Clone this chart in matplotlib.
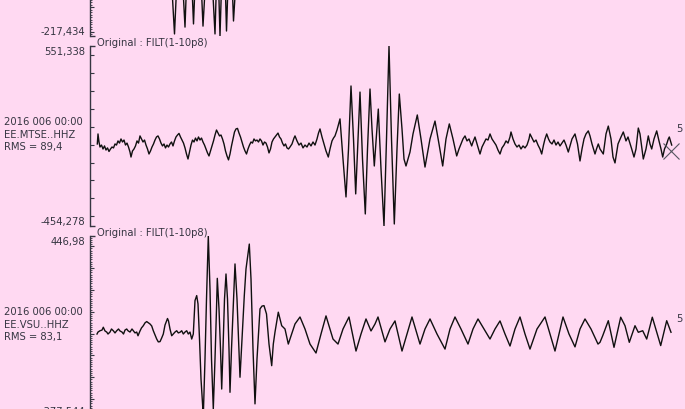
import matplotlib
matplotlib.use("Agg")
import matplotlib.pyplot as plt
from matplotlib.ticker import MultipleLocator, NullFormatter
from matplotlib.transforms import blended_transform_factory

plt.rcParams['font.family'] = ['DejaVu Sans']

# ---------------- data ----------------
FILTER_LABEL = "Original : FILT(1-10p8)"
START_TIME = "2016 006 00:00"
STATIONS = [None, "EE.MTSE..HHZ", "EE.VSU..HHZ"]
RMS = [None, "RMS = 89,4", "RMS = 83,1"]
COMPONENT_MARK = [None, "5", "5"]
Y_MIN = [-217.434, -454.278, -377.544]
Y_MAX = [520.0, 551.338, 446.98]

# time in seconds, amplitude in counts
TOP_T = [0.0, 2.0, 4.0, 6.0, 7.0, 7.3, 7.75, 8.25, 8.8, 9.2,
         9.65, 10.1, 10.6, 11.2, 11.8, 12.05, 12.3, 12.65, 12.95, 13.3,
         13.65, 14.1, 14.6, 15.5, 20.0, 30.0, 40.0, 50.0, 57.5]
TOP_A = [5, -10, 15, -20, 30, 120, -209, 250, -181, 280,
         -168, 300, -177, 260, -209, 150, -217.434, 260, -197, 240,
         -156, 150, -40, 20, -10, 15, -15, 10, 0]

MID_T = [0.03, 0.1, 0.2, 0.3, 0.45, 0.6, 0.75, 0.9, 1.05, 1.2,
         1.35, 1.5, 1.65, 1.8, 1.95, 2.1, 2.25, 2.4, 2.55, 2.7,
         2.85, 3.0, 3.15, 3.3, 3.4, 3.55, 3.7, 3.85, 4.0, 4.15,
         4.3, 4.45, 4.6, 4.75, 4.9, 5.05, 5.2, 5.35, 5.5, 5.65,
         5.8, 5.95, 6.1, 6.25, 6.4, 6.55, 6.7, 6.85, 7.0, 7.15,
         7.3, 7.45, 7.6, 7.75, 7.9, 8.05, 8.2, 8.35, 8.5, 8.65,
         8.8, 8.95, 9.1, 9.25, 9.4, 9.55, 9.7, 9.85, 10.0, 10.15,
         10.3, 10.45, 10.6, 10.75, 10.9, 11.05, 11.2, 11.35, 11.5, 11.65,
         11.8, 11.95, 12.1, 12.25, 12.4, 12.55, 12.7, 12.85, 13.0, 13.15,
         13.3, 13.45, 13.6, 13.75, 13.9, 14.05, 14.2, 14.35, 14.5, 14.65,
         14.8, 14.95, 15.1, 15.25, 15.4, 15.55, 15.7, 15.85, 16.0, 16.15,
         16.3, 16.45, 16.6, 16.75, 16.9, 17.05, 17.2, 17.35, 17.5, 17.65,
         17.8, 17.95, 18.1, 18.25, 18.4, 18.55, 18.7, 18.85, 19.0, 19.15,
         19.3, 19.5, 19.7, 19.8, 20.0, 20.2, 20.4, 20.6, 20.8, 21.0,
         21.2, 21.4, 21.6, 21.8, 22.0, 22.15, 22.3, 22.5, 22.7, 22.9,
         23.13, 23.3, 23.5, 23.65, 23.8, 24.0, 24.3, 24.6, 24.9, 25.15,
         25.4, 25.65, 25.87, 26.1, 26.3, 26.55, 26.83, 27.05, 27.3, 27.5,
         27.73, 27.95, 28.13, 28.4, 28.7, 28.95, 29.2, 29.45, 29.73, 30.0,
         30.23, 30.5, 30.7, 30.9, 31.1, 31.3, 31.6, 32.03, 32.4, 32.8,
         33.3, 33.8, 34.2, 34.57, 34.9, 35.23, 35.6, 35.97, 36.2, 36.4,
         36.6, 36.8, 37.0, 37.2, 37.47, 37.6, 37.8, 38.0, 38.15, 38.3,
         38.5, 38.7, 38.9, 39.1, 39.3, 39.5, 39.7, 39.9, 40.1, 40.3,
         40.5, 40.7, 40.9, 41.1, 41.3, 41.4, 41.6, 41.8, 42.0, 42.2,
         42.4, 42.6, 42.8, 43.0, 43.2, 43.3, 43.5, 43.7, 43.9, 44.1,
         44.3, 44.47, 44.65, 44.8, 44.97, 45.15, 45.3, 45.5, 45.7, 45.9,
         46.1, 46.3, 46.5, 46.7, 46.9, 47.13, 47.3, 47.5, 47.8, 48.05,
         48.3, 48.5, 48.7, 48.9, 49.13, 49.3, 49.5, 49.8, 49.95, 50.13,
         50.3, 50.63, 50.9, 51.13, 51.4, 51.6, 51.8, 52.1, 52.4, 52.63,
         52.9, 53.1, 53.47, 53.7, 53.9, 54.13, 54.3, 54.63, 54.9, 55.13,
         55.3, 55.47, 55.7, 55.97, 56.2, 56.4, 56.57, 56.75, 56.97, 57.13,
         57.23, 57.35, 57.47]
MID_A = [4, 60, 15, -13, -2, -24, -7, -30, -18, -38,
         -24, -13, -18, 4, -2, 21, 9, 32, 15, 26,
         -2, 9, -13, -41, -69, -35, -24, -7, 21, 9,
         49, 32, 15, 26, -2, -24, -52, -35, -13, 4,
         26, 43, 49, 32, 9, -7, 4, -18, -2, -13,
         4, 15, -7, 21, 43, 54, 63, 43, 26, 9,
         -18, -52, -80, -41, -2, 26, 15, 37, 21, 43,
         26, 37, 15, -2, -24, -46, -63, -35, -7, 21,
         54, 82, 65, 49, 54, 32, 4, -35, -63, -85,
         -52, -7, 32, 71, 88, 91, 65, 43, 15, -13,
         -35, -52, -24, -2, 15, 9, 32, 21, 26, 15,
         32, 21, -2, 15, 9, -13, -46, -24, 15, 32,
         43, 54, 65, 43, 32, 9, -7, 4, -18, -24,
         -13, 4, 37, 49, 21, -2, 9, -18, -2, -13,
         9, -7, 15, -2, 32, 65, 88, 43, 4, -35,
         -69, -24, 21, 37, 49, 82, 144, -80, -292, -24,
         328, 32, -275, 32, 294, -80, -387, -24, 311, 88,
         -119, 60, 199, -136, -454.278, 32, 551.338, 32, -443, -24,
         283, 88, -80, -119, -80, -41, 60, 166, 32, -125,
         32, 132, 4, -119, 32, 116, 32, -63, -24, 4,
         32, 49, 21, 32, -7, 15, 43, 4, -24, -52,
         -13, 9, 32, 26, 60, 32, 15, -2, -30, -52,
         -18, -2, 21, 9, 43, 71, 32, 4, -13, -2,
         -24, -7, -18, -2, 32, 60, 37, 15, 26, -2,
         -24, -52, -2, 32, 60, 32, 15, 4, 26, -2,
         15, -7, 9, 26, -2, -41, -7, 32, 60, 4,
         -91, -24, 32, 60, 77, 49, 4, -52, -24, 4,
         -24, -52, 60, 104, 32, -69, -102, 4, 43, 71,
         21, 43, -24, -69, -24, 93, 60, -80, -24, 49,
         4, -24, 32, 77, 21, -24, -69, -24, 4, 32,
         43, 21, -2]

BOT_T = [0.0, 0.1, 0.3, 0.5, 0.63, 0.8, 0.97, 1.1, 1.3, 1.45,
         1.63, 1.8, 1.97, 2.15, 2.3, 2.5, 2.65, 2.8, 2.97, 3.1,
         3.3, 3.5, 3.63, 3.8, 3.97, 4.1, 4.3, 4.45, 4.63, 4.8,
         4.97, 5.15, 5.3, 5.47, 5.63, 5.8, 5.97, 6.13, 6.3, 6.47,
         6.63, 6.8, 6.97, 7.05, 7.15, 7.3, 7.47, 7.63, 7.8, 7.97,
         8.13, 8.3, 8.47, 8.63, 8.8, 8.97, 9.13, 9.3, 9.47, 9.63,
         9.8, 9.97, 10.1, 10.25, 10.4, 10.63, 10.8, 10.95, 11.13, 11.3,
         11.45, 11.63, 11.8, 11.95, 12.03, 12.2, 12.35, 12.47, 12.6, 12.75,
         12.9, 13.05, 13.2, 13.3, 13.45, 13.65, 13.8, 14.0, 14.15, 14.3,
         14.5, 14.73, 14.9, 15.23, 15.4, 15.6, 15.8, 16.0, 16.3, 16.5,
         16.7, 16.95, 17.2, 17.47, 17.63, 17.8, 18.13, 18.47, 18.8, 19.13,
         19.3, 19.8, 20.3, 20.8, 21.3, 21.9, 22.4, 22.9, 23.6, 24.1,
         24.6, 25.2, 25.9, 26.4, 26.9, 27.4, 27.8, 28.1, 28.8, 29.3,
         29.8, 30.5, 31.0, 31.5, 32.0, 32.3, 32.8, 33.3, 34.0, 34.8,
         35.3, 35.8, 36.4, 37.1, 37.6, 38.1, 38.7, 39.3, 39.8, 40.3,
         40.8, 41.3, 41.8, 42.3, 42.8, 43.3, 44.0, 44.8, 45.3, 45.8,
         46.2, 46.6, 47.2, 47.8, 48.3, 48.8, 49.4, 50.1, 50.3, 50.57,
         51.13, 51.7, 52.37, 52.8, 53.23, 53.8, 54.13, 54.57, 54.97, 55.53,
         56.37, 56.97, 57.4]
BOT_A = [-2, 7, 13, 16, 29, 12, 7, -2, 7, 21,
         13, 3, 13, 21, 12, 7, -2, 16, 21, 13,
         7, 21, 13, 3, 7, -10, 12, 26, 36, 49,
         55, 49, 44, 35, 13, -6, -25, -38, -37, -20,
         -2, 39, 59, 69, 58, 21, -10, -2, 7, 13,
         3, 6, 13, -2, 7, 13, -2, 7, -25, -2,
         151, 174, 136, -25, -208, -377.544, -116, 158, 446.98, 204,
         -116, -345, -116, 113, 253, 113, -71, -254, -71, 158,
         273, 158, -71, -269, -71, 158, 319, 158, -25, -200,
         -25, 174, 296, 410, 250, -71, -322, -116, 113, 126,
         128, 90, -48, -147, -48, 7, 98, 36, 21, -48,
         -25, 44, 76, 21, -48, -89, -2, 81, -25, -48,
         21, 76, -80, -2, 67, 12, 44, 76, -38, 21,
         58, -80, -2, 76, -2, -48, 21, 67, -2, -71,
         21, 76, 21, -48, 21, 67, 21, -25, 21, 58,
         -2, -57, 21, 76, -2, -71, 21, 76, -2, -80,
         -2, 76, -2, -61, 21, 67, 21, -48, -40, -10,
         59, -63, 75, 36, -40, 36, 6, 13, -25, 75,
         -55, 59, 6]

# end-of-trace cross marker on the middle trace
MARK_T = 57.35
MARK_A = -35

# ---------------- layout / style ----------------
W, H = 685, 410
PANEL_TOP = [-143, 47, 237]
PANEL_H = 180
AX_LEFT = 89.5
X_LIM = (-0.75, 58.8)
FINE_TICKS = [True, False, True]
BG = '#FFD9F2'
INK = '#363642'
TRACE = '#101010'
FS = 7.2


def fmt(v):
    s = f"{v:.3f}".rstrip('0').rstrip('.')
    return s.replace('.', ',')


fig = plt.figure(figsize=(W / 100, H / 100), dpi=100)
fig.patch.set_facecolor(BG)

traces = [(TOP_T, TOP_A), (MID_T, MID_A), (BOT_T, BOT_A)]

for i in range(3):
    top = PANEL_TOP[i]
    ax = fig.add_axes([AX_LEFT / W, 1 - (top + PANEL_H) / H,
                       (W - AX_LEFT) / W, PANEL_H / H])
    ax.set_facecolor(BG)
    t, a = traces[i]
    ax.plot(t, a, color=TRACE, lw=1.0, solid_joinstyle='round')
    ax.set_xlim(*X_LIM)
    ax.set_ylim(Y_MIN[i], Y_MAX[i])

    for s in ('top', 'right', 'bottom'):
        ax.spines[s].set_visible(False)
    ax.spines['left'].set_color(INK)
    ax.spines['left'].set_linewidth(1.0)
    ax.xaxis.set_visible(False)

    ax.yaxis.set_major_locator(MultipleLocator(100))
    ax.yaxis.set_major_formatter(NullFormatter())
    ax.tick_params(axis='y', which='major', direction='in', length=2.8,
                   width=0.8, color=INK, labelleft=False)
    if FINE_TICKS[i]:
        ax.yaxis.set_minor_locator(MultipleLocator(10))
        ax.yaxis.set_minor_formatter(NullFormatter())
        ax.tick_params(axis='y', which='minor', direction='in', length=1.7,
                       width=0.6, color=INK)

    tr = blended_transform_factory(ax.transAxes, ax.transData)
    cap = 5.5 / (W - AX_LEFT)
    for yv in (Y_MIN[i], Y_MAX[i]):
        ax.plot([0, cap], [yv, yv], transform=tr, color=INK, lw=1.0,
                clip_on=False, solid_capstyle='butt')

    # limit labels
    if top >= 0:
        ax.annotate(fmt(Y_MAX[i]), xy=(0, Y_MAX[i]), xycoords=tr,
                    xytext=(-3, 0), textcoords='offset points',
                    ha='right', va='top', fontsize=FS, color=INK)
        ax.annotate(FILTER_LABEL, xy=(0, 1), xycoords=('data', 'axes fraction'),
                    xytext=(0, 2.6), textcoords='offset points',
                    ha='left', va='center', fontsize=FS, color=INK)
    ax.annotate(fmt(Y_MIN[i]), xy=(0, Y_MIN[i]), xycoords=tr,
                xytext=(-3, 0), textcoords='offset points',
                ha='right', va='bottom', fontsize=FS, color=INK)

    if STATIONS[i] is not None:
        for k, txt in enumerate([START_TIME, STATIONS[i], RMS[i]]):
            fig.text(4 / W, 1 - (top + 75.3 + 12.5 * k) / H, txt,
                     ha='left', va='center', fontsize=FS, color=INK)
    if COMPONENT_MARK[i] is not None:
        fig.text(676 / W, 1 - (top + 82) / H, COMPONENT_MARK[i],
                 ha='left', va='center', fontsize=FS, color=INK)

    if i == 1:
        ax.plot([MARK_T], [MARK_A], marker='x', ms=11, mew=0.8,
                color='#555560', clip_on=False, linestyle='none')

fig.savefig('out.png', dpi=100, facecolor=BG)
